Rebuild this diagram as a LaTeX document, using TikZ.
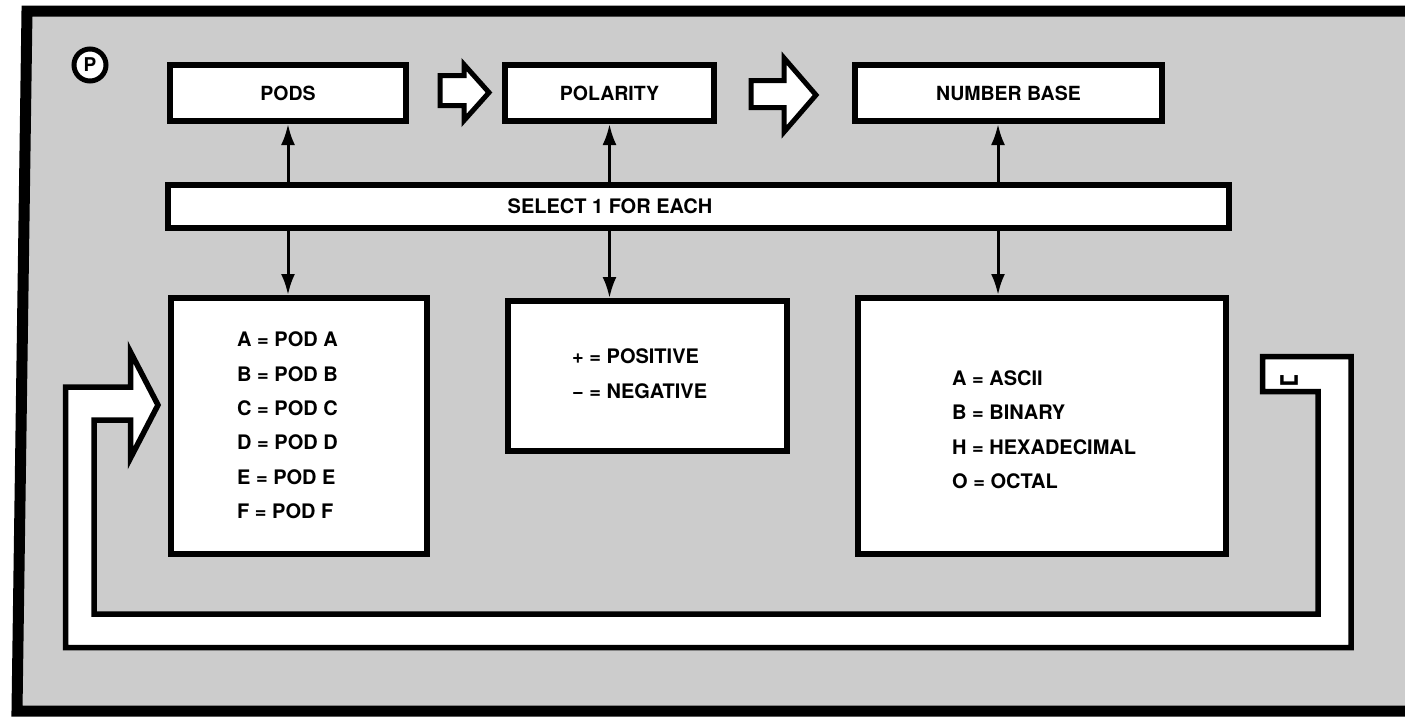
\documentclass[tikz,border=0pt]{standalone}
\usepackage{fontspec}
\setmainfont{TeX Gyre Heros}
\newfontfamily\symfont{DejaVu Sans}
\usetikzlibrary{arrows.meta}
\definecolor{screen}{gray}{0.80}
\begin{document}
\begin{tikzpicture}[x=1pt,y=-1pt,
  panel/.style={draw, line width=6pt, fill=white, inner sep=0pt,
    font=\fontsize{19.5}{22}\selectfont\bfseries},
  entry/.style={inner sep=0pt, anchor=base west,
    font=\fontsize{20}{22}\selectfont\bfseries},
  conn/.style={line width=3pt, -{Latex[length=21pt,width=14pt]}},
  blockarrow/.style={draw, fill=white, line width=5pt, line join=miter},
  pipe/.style={draw, fill=white, line width=5.5pt, line join=miter, miter limit=20},
  frame/.style={line width=11pt, line join=miter},
]
\useasboundingbox (0,0) rectangle (1405,716);

% shaded panel and its frame
\fill[screen] (27,11) -- (1410,11) -- (1410,711) -- (17,711) -- cycle;
\draw[frame] (1410,11) -- (27,11) -- (17,711) -- (1410,711);

% panel mark
\node[circle, draw, line width=5pt, minimum size=32pt, inner sep=0pt, fill=white,
  font=\fontsize{19}{20}\selectfont\bfseries] (pmark) at (90,65) {P};

% menu headings
\node[panel, minimum width=236pt, minimum height=56pt] (pods) at (288,93) {PODS};
\node[panel, minimum width=209pt, minimum height=56pt] (polarity) at (609.5,93) {POLARITY};
\node[panel, minimum width=307pt, minimum height=56pt] (nbase) at (1008.5,93) {NUMBER BASE};

% block arrows between headings
\draw[blockarrow] (440,75.5) -- (464,75.5) -- (464,64.5) -- (489,92.5)
  -- (464,120.5) -- (464,105.5) -- (440,105.5) -- cycle;
\draw[blockarrow] (751,80.5) -- (784,80.5) -- (784,58) -- (816,95)
  -- (784,132) -- (784,107.5) -- (751,107.5) -- cycle;

% selection bar
\node[panel, minimum width=1061pt, minimum height=43pt] (select) at (698.5,206.5) {};
\node[entry, anchor=center] (selecttext) at (610,206.5) {SELECT 1 FOR EACH};

% option boxes
\node[panel, minimum width=256pt, minimum height=256pt] (podlist) at (299,426) {};
\node[panel, minimum width=279pt, minimum height=150pt] (pollist) at (647.5,376) {};
\node[panel, minimum width=368pt, minimum height=256pt] (baselist) at (1042,426) {};

% connectors
\coordinate (nbx) at (998,0);
\draw[conn] (select.north -| pods.south) -- (pods.south);
\draw[conn] (select.south -| pods.south) -- (podlist.north -| pods.south);
\draw[conn] (select.north -| polarity.south) -- (polarity.south);
\draw[conn] (select.south -| polarity.south) -- (pollist.north -| polarity.south);
\draw[conn] (select.north -| nbx) -- (nbase.south -| nbx);
\draw[conn] (select.south -| nbx) -- (baselist.north -| nbx);

% pod choices
\node[entry] (podA) at (237,346.5) {A = POD A};
\node[entry] (podB) at (237,381)   {B = POD B};
\node[entry] (podC) at (237,415)   {C = POD C};
\node[entry] (podD) at (237,449.5) {D = POD D};
\node[entry] (podE) at (237,484)   {E = POD E};
\node[entry] (podF) at (237,518)   {F = POD F};

% polarity choices
\node[entry] (polP) at (572,363) {+ = POSITIVE};
\node[entry] (polN) at (572,398) {− = NEGATIVE};

% number base choices
\node[entry] (baseA) at (952,385) {A = ASCII};
\node[entry] (baseB) at (952,419) {B = BINARY};
\node[entry] (baseH) at (952,454) {H = HEXADECIMAL};
\node[entry] (baseO) at (952,488) {O = OCTAL};

% return loop: space key back to the pod menu
\draw[pipe] (158,405) -- (130.5,352) -- (130.5,387) -- (65.5,387)
  -- (65.5,647.5) -- (1351,647.5) -- (1351,356.5) -- (1262.5,356.5)
  -- (1262.5,391.5) -- (1318,391.5) -- (1318,614) -- (94,614)
  -- (94,420) -- (130.5,420) -- (130.5,458) -- cycle;
\node[inner sep=0pt, anchor=base, font=\symfont\fontsize{30}{32}\selectfont\bfseries]
  (spacekey) at (1289,378) {␣};
\end{tikzpicture}
\end{document}
